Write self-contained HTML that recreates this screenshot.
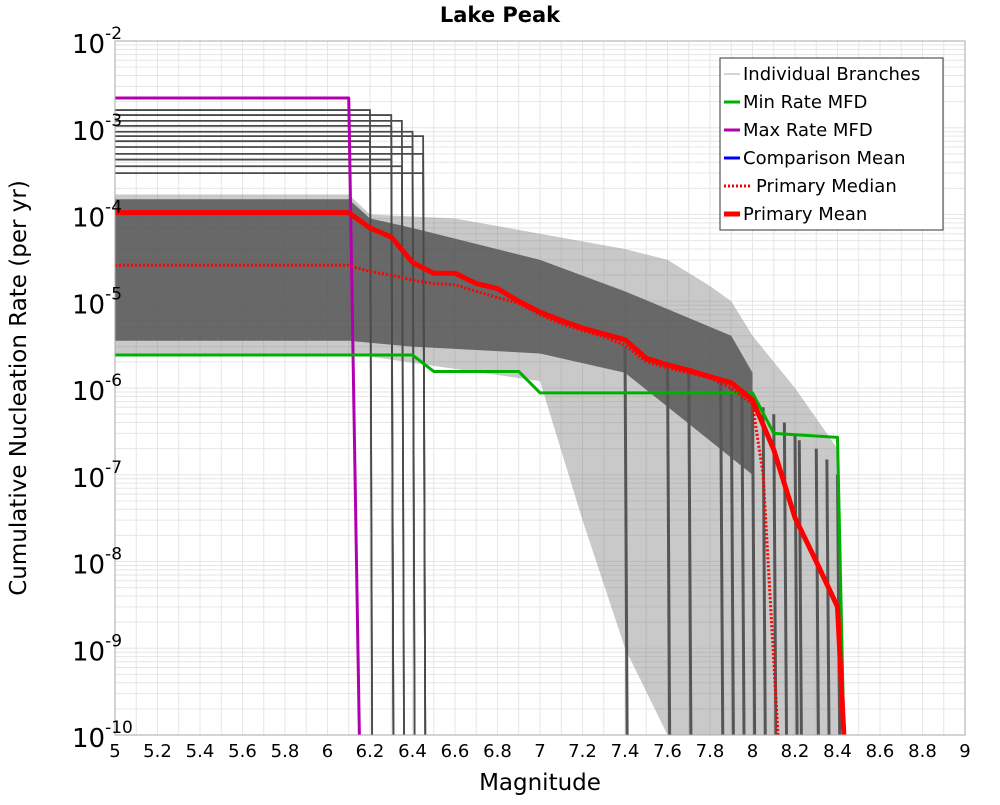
<!DOCTYPE html>
<html><head><meta charset="utf-8"><style>
body{margin:0;background:#fff;font-family:"Liberation Sans","DejaVu Sans",sans-serif}
svg text{font-family:"DejaVu Sans","Liberation Sans",sans-serif}
</style></head><body>
<svg id="chart" width="1000" height="800" xmlns="http://www.w3.org/2000/svg">
<rect width="1000" height="800" fill="#fff"/>
<g id="grid"></g>
<g id="band"></g>
<g id="series"></g>
<rect x="115" y="41" width="850" height="694" fill="none" stroke="#aaa"/>
<g id="ticks"></g>
<text x="500" y="22" text-anchor="middle" font-size="21" font-weight="bold">Lake Peak</text>
<text x="540" y="790" text-anchor="middle" font-size="23">Magnitude</text>
<text transform="translate(26,388) rotate(-90)" text-anchor="middle" font-size="23">Cumulative Nucleation Rate (per yr)</text>
<g>
<rect x="720" y="58" width="223" height="172" fill="#fff" stroke="#333"/>
<g font-size="18">
<line x1="724" y1="74" x2="740" y2="74" stroke="#aaa" stroke-width="1"/><text x="743" y="80">Individual Branches</text>
<line x1="724" y1="102" x2="740" y2="102" stroke="#00b000" stroke-width="3"/><text x="743" y="108">Min Rate MFD</text>
<line x1="724" y1="130" x2="740" y2="130" stroke="#b000b0" stroke-width="3"/><text x="743" y="136">Max Rate MFD</text>
<line x1="724" y1="158" x2="740" y2="158" stroke="#0000ff" stroke-width="3"/><text x="743" y="164">Comparison Mean</text>
<line x1="724" y1="186" x2="752" y2="186" stroke="#ff0000" stroke-width="3" stroke-dasharray="2,2"/><text x="756" y="192">Primary Median</text>
<line x1="724" y1="214" x2="740" y2="214" stroke="#ff0000" stroke-width="5"/><text x="743" y="220">Primary Mean</text>
</g></g>
</svg>
<script>
const xTicks=[5,5.2,5.4,5.6,5.8,6,6.2,6.4,6.6,6.8,7,7.2,7.4,7.6,7.8,8,8.2,8.4,8.6,8.8,9];
const yDecades=[-2,-3,-4,-5,-6,-7,-8,-9,-10];
const meanM=[5,6.1,6.2,6.3,6.4,6.5,6.6,6.7,6.8,6.9,7.0,7.1,7.2,7.3,7.4,7.5,7.6,7.7,7.8,7.9,8.0,8.1,8.2,8.3,8.4,8.43];
const meanV=[1.05e-4,1.05e-4,7e-5,5.5e-5,2.8e-5,2.1e-5,2.1e-5,1.6e-5,1.4e-5,1.0e-5,7.5e-6,6e-6,4.9e-6,4.2e-6,3.6e-6,2.2e-6,1.85e-6,1.6e-6,1.35e-6,1.15e-6,7.3e-7,1.95e-7,3.2e-8,1.0e-8,3e-9,1e-10];
const medM=[5,6.1,6.2,6.3,6.4,6.5,6.6,6.7,6.8,6.9,7.0,7.1,7.2,7.3,7.4,7.5,7.6,7.7,7.8,7.9,8.0,8.05,8.12];
const medV=[2.6e-5,2.6e-5,2.2e-5,2e-5,1.75e-5,1.6e-5,1.55e-5,1.3e-5,1.1e-5,9.5e-6,7e-6,5.5e-6,4.6e-6,3.9e-6,3.1e-6,2.0e-6,1.7e-6,1.5e-6,1.3e-6,1.0e-6,6.5e-7,1e-7,1e-10];
const minM=[5,6.4,6.5,6.9,7.0,8.0,8.1,8.4,8.43];
const minV=[2.4e-6,2.4e-6,1.55e-6,1.55e-6,8.8e-7,8.8e-7,3.0e-7,2.7e-7,1e-10];
const maxM=[5,6.1,6.15];
const maxV=[2.2e-3,2.2e-3,1e-10];
const bandUpperM=[5,6.1,6.2,6.6,7.0,7.4,7.6,7.8,7.9,8.0,8.2,8.4];
const bandUpperV=[1.7e-4,1.7e-4,1e-4,9e-5,6e-5,4e-5,3e-5,1.5e-5,1e-5,4e-6,1e-6,2e-7];
const bandLowerM=[8.4,8.2,8.0,7.6,7.4,7.2,7.0,6.5,6.1,5];
const bandLowerV=[1e-10,1e-10,1e-10,1e-10,1e-9,3e-8,1.2e-6,1.8e-6,2.5e-6,2.5e-6];
const coreUpperM=[5,6.1,6.2,6.4,7.0,7.4,7.9,8.0];
const coreUpperV=[1.5e-4,1.5e-4,9e-5,7e-5,3e-5,1.3e-5,4e-6,1.5e-6];
const coreLowerM=[8.0,7.4,7.0,6.4,6.1,5];
const coreLowerV=[1e-7,1.5e-6,2.5e-6,3e-6,3.5e-6,3.5e-6];
const highRates=[1.6e-3,1.4e-3,1.2e-3,1.05e-3,9e-4,8e-4,7e-4,6e-4,5e-4,4.3e-4,3.6e-4,3e-4];
const highDropM=[6.2,6.3,6.35,6.3,6.4,6.45,6.2,6.4,6.45,6.3,6.35,6.45];
const dropM=[7.4,7.6,7.7,7.85,7.9,7.95,8.0,8.05,8.1,8.15,8.2,8.22,8.3,8.35,8.4];
const dropTopV=[3e-6,2e-6,1.5e-6,1.2e-6,1e-6,9e-7,8e-7,6e-7,5e-7,4e-7,3e-7,2.5e-7,2e-7,1.5e-7,1e-7];
const NS='http://www.w3.org/2000/svg';
const X=m=>115+(m-5)*212.5;
const Y=v=>{let l=Math.log10(v);l=Math.max(-10,Math.min(-2,l));return 41+(-2-l)*86.75;};
function mk(p,t,a){const e=document.createElementNS(NS,t);for(const k in a)e.setAttribute(k,a[k]);p.appendChild(e);return e;}
const grid=document.getElementById('grid');
for(let d=-10;d<-2;d++)for(let k=1;k<10;k++){const y=Y(k*Math.pow(10,d));const l=mk(grid,'line',{x1:115,x2:965,y1:y,y2:y,stroke:'#e6e6e6'});

}
for(let i=0;i<=40;i++){const x=X(5+i*0.1);const l=mk(grid,'line',{x1:x,x2:x,y1:41,y2:735,stroke:'#e6e6e6'});

}
const band=document.getElementById('band');
function poly(ms,vs){return ms.map((m,i)=>X(m)+','+Y(vs[i])).join(' ');}
const b1=mk(band,'polygon',{points:poly(bandUpperM,bandUpperV)+' '+poly(bandLowerM,bandLowerV),fill:'#777','fill-opacity':0.4});


const b2=mk(band,'polygon',{points:poly(coreUpperM,coreUpperV)+' '+poly(coreLowerM,coreLowerV),fill:'#505050','fill-opacity':0.8});


highRates.forEach((v,i)=>{const p=mk(band,'polyline',{points:poly([5,highDropM[i],highDropM[i]+0.01],[v,v,1e-10]),fill:'none',stroke:'#4a4a4a','stroke-width':1.8});

});
dropM.forEach((m,i)=>{const p=mk(band,'line',{x1:X(m),x2:X(m+0.01),y1:Y(dropTopV[i]),y2:735,stroke:'#555','stroke-width':3});

});
const ser=document.getElementById('series');
function line(ms,vs,col,w,dash,name){const p=mk(ser,'polyline',{points:poly(ms,vs),fill:'none',stroke:col,'stroke-width':w,'stroke-linejoin':'round'});if(dash)p.setAttribute('stroke-dasharray',dash);

}
line(maxM,maxV,'#b000b0',3,null,'max-rate-mfd');
line(minM,minV,'#00b000',3,null,'min-rate-mfd');
line(medM,medV,'#ff0000',3,'2,2','primary-median');
line(meanM,meanV,'#ff0000',5,null,'primary-mean');
const tk=document.getElementById('ticks');
xTicks.forEach(m=>{const t=mk(tk,'text',{x:X(m),y:757,'text-anchor':'middle','font-size':18});t.textContent=String(m);

});
yDecades.forEach(d=>{const t=mk(tk,'text',{x:72,y:Y(Math.pow(10,d))+12,'font-size':26});t.textContent='10';
const s=mk(t,'tspan',{dy:-14,'font-size':17});s.textContent=String(d);

});
</script>
</body></html>
